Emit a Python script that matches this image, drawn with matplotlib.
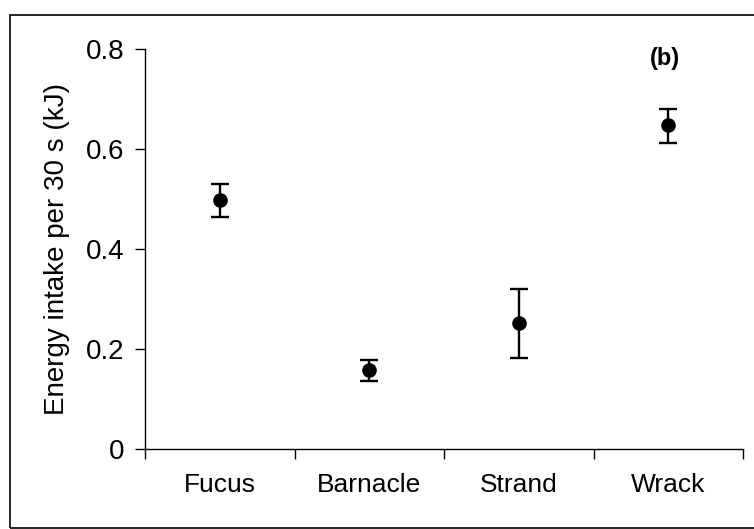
import matplotlib
matplotlib.use("Agg")
import matplotlib.pyplot as plt
from matplotlib.patches import Rectangle
import numpy as np

plt.rcParams['font.family'] = ['Liberation Sans', 'DejaVu Sans']

categories = ['Fucus', 'Barnacle', 'Strand', 'Wrack']
mean = [0.498, 0.158, 0.253, 0.648]
upper = [0.530, 0.178, 0.320, 0.680]
lower = [0.465, 0.137, 0.183, 0.612]

x = np.arange(1, len(categories) + 1)
yerr = [np.array(mean) - np.array(lower), np.array(upper) - np.array(mean)]

fig = plt.figure(figsize=(7.54, 5.29), dpi=100)
ax = fig.add_axes([145 / 754, 1 - 449 / 529, 598 / 754, 400 / 529])

ax.errorbar(x, mean, yerr=yerr, fmt='o', color='black', markersize=9.5,
            elinewidth=1.7, capsize=6.5, capthick=1.7)

ax.set_xlim(0.5, 4.5)
ax.set_ylim(0, 0.8)
ax.set_yticks([0, 0.2, 0.4, 0.6, 0.8])
ax.set_yticklabels(['0', '0.2', '0.4', '0.6', '0.8'])
ax.set_xticks(x)
ax.set_xticklabels(categories)
ax.set_xticks(np.arange(0.5, 4.6, 1), minor=True)
ax.tick_params(axis='x', which='major', length=0, pad=17, labelsize=19)
ax.tick_params(axis='x', which='minor', length=7, direction='out', width=1)
ax.tick_params(axis='y', length=7, direction='out', width=1, pad=8, labelsize=20)

for s in ['top', 'right']:
    ax.spines[s].set_visible(False)
for s in ['left', 'bottom']:
    ax.spines[s].set_linewidth(1)

ax.set_ylabel('Energy intake per 30 s (kJ)', fontsize=20)
ax.yaxis.set_label_coords(-0.125, 0.5)

fig.text(665 / 754, 1 - 58 / 529, '(b)', fontsize=17, fontweight='bold',
         ha='center', va='center')

fig.patches.append(Rectangle((10 / 754, 0.002), 1.0, 1 - 15 / 529 - 0.002,
                             transform=fig.transFigure, fill=False,
                             edgecolor='black', linewidth=1.2))

fig.savefig('out.png', dpi=100)
